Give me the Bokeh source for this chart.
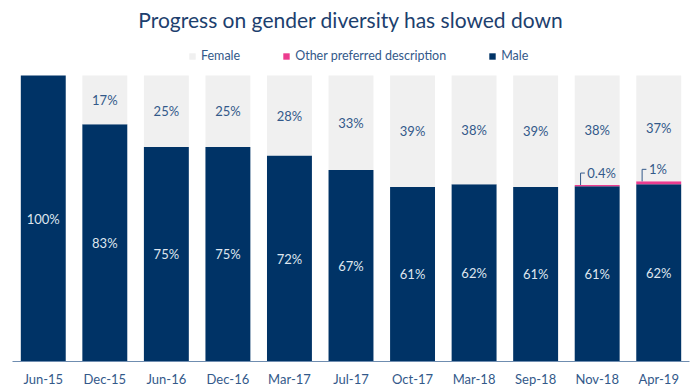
from bokeh.plotting import figure
from bokeh.models import ColumnDataSource, Legend, LegendItem, FactorRange
from bokeh.transform import dodge
from bokeh.core.properties import value
from bokeh.embed import file_html
from bokeh.resources import INLINE

periods = ["Jun-15", "Dec-15", "Jun-16", "Dec-16", "Mar-17", "Jul-17",
           "Oct-17", "Mar-18", "Sep-18", "Nov-18", "Apr-19"]
male = [100, 83, 75, 75, 72, 67, 61, 62, 61, 61.3, 62]
other = [0, 0, 0, 0, 0, 0, 0, 0, 0, 0.4, 1]
female = [0, 17, 25, 25, 28, 33, 39, 38, 39, 38.3, 37]

other_periods = ["Nov-18", "Apr-19"]
other_labels = ["0.4%", "1%"]

FONT = "Lato"
NAVY = "#003366"
PINK = "#ec3c8f"
LIGHT = "#f0f0f0"
TXT = "#33598a"

src = ColumnDataSource(dict(period=periods, male=male, other=other, female=female))

p = figure(x_range=FactorRange(*periods, range_padding=0), y_range=(0, 114),
           frame_width=677, frame_height=326, output_backend="svg",
           toolbar_location=None, min_border_left=12, min_border_right=3,
           min_border_top=0, min_border_bottom=0)

rs = p.vbar_stack(["male", "other", "female"], x="period", width=0.73,
                  color=[NAVY, PINK, LIGHT], line_color=None, source=src)

# labels
male_lbl = [f"{round(m)}%" for m in male]
male_y = [m / 2 for m in male]
fem_idx = [i for i, f in enumerate(female) if f > 0]
fem_lbl = [f"{round(female[i])}%" for i in fem_idx]
fem_y = [male[i] + other[i] + female[i] / 2 for i in fem_idx]
fem_x = [periods[i] for i in fem_idx]

p.text(x=periods, y=male_y, text=male_lbl, text_align="center", text_baseline="middle",
       text_color="#dfe6ef", text_font=value(FONT), text_font_size="13px")
p.text(x=fem_x, y=fem_y, text=fem_lbl, text_align="center", text_baseline="middle",
       text_color=TXT, text_font=value(FONT), text_font_size="13px")

# bracket annotations for "other"
oi = [periods.index(c) for c in other_periods]
ob = [male[i] + other[i] for i in oi]
ot = [v + 4.2 for v in ob]
osrc = ColumnDataSource(dict(period=other_periods, y0=ob, y1=ot, lbl=other_labels))
p.segment(x0=dodge("period", -0.27, range=p.x_range), y0="y0",
          x1=dodge("period", -0.27, range=p.x_range), y1="y1",
          line_color=TXT, line_width=1, source=osrc)
p.segment(x0=dodge("period", -0.27, range=p.x_range), y0="y1",
          x1=dodge("period", -0.2, range=p.x_range), y1="y1",
          line_color=TXT, line_width=1, source=osrc)
p.text(x=dodge("period", -0.16, range=p.x_range), y="y1", text="lbl", source=osrc,
       text_align="left", text_baseline="middle", text_color=TXT,
       text_font=value(FONT), text_font_size="13px")

legend = Legend(items=[LegendItem(label="Female", renderers=[rs[2]]),
                       LegendItem(label="Other preferred description", renderers=[rs[1]]),
                       LegendItem(label="Male", renderers=[rs[0]])],
                orientation="horizontal", location=(176, 298),
                glyph_width=8, glyph_height=8, spacing=42, label_standoff=5,
                label_text_font=FONT, label_text_font_size="12.5px",
                label_text_color=TXT, border_line_alpha=0,
                background_fill_alpha=0, margin=0, padding=0)
p.add_layout(legend)

p.title.text = "Progress on gender diversity has slowed down"
p.title.align = "center"
p.title.text_font = FONT
p.title.text_font_size = "21px"
p.title.text_font_style = "normal"
p.title.text_color = "#1d3f6e"
p.title.padding = 2
p.title.standoff = 4

p.yaxis.visible = False
p.xgrid.visible = False
p.ygrid.visible = False
p.outline_line_color = None
p.xaxis.axis_line_color = "#6f8db0"
p.xaxis.major_tick_line_color = None
p.xaxis.minor_tick_line_color = None
p.xaxis.major_label_text_font = FONT
p.xaxis.major_label_text_font_size = "13px"
p.xaxis.major_label_text_color = TXT
p.xaxis.major_label_standoff = 3

open("out.html", "w").write(file_html(p, INLINE))
